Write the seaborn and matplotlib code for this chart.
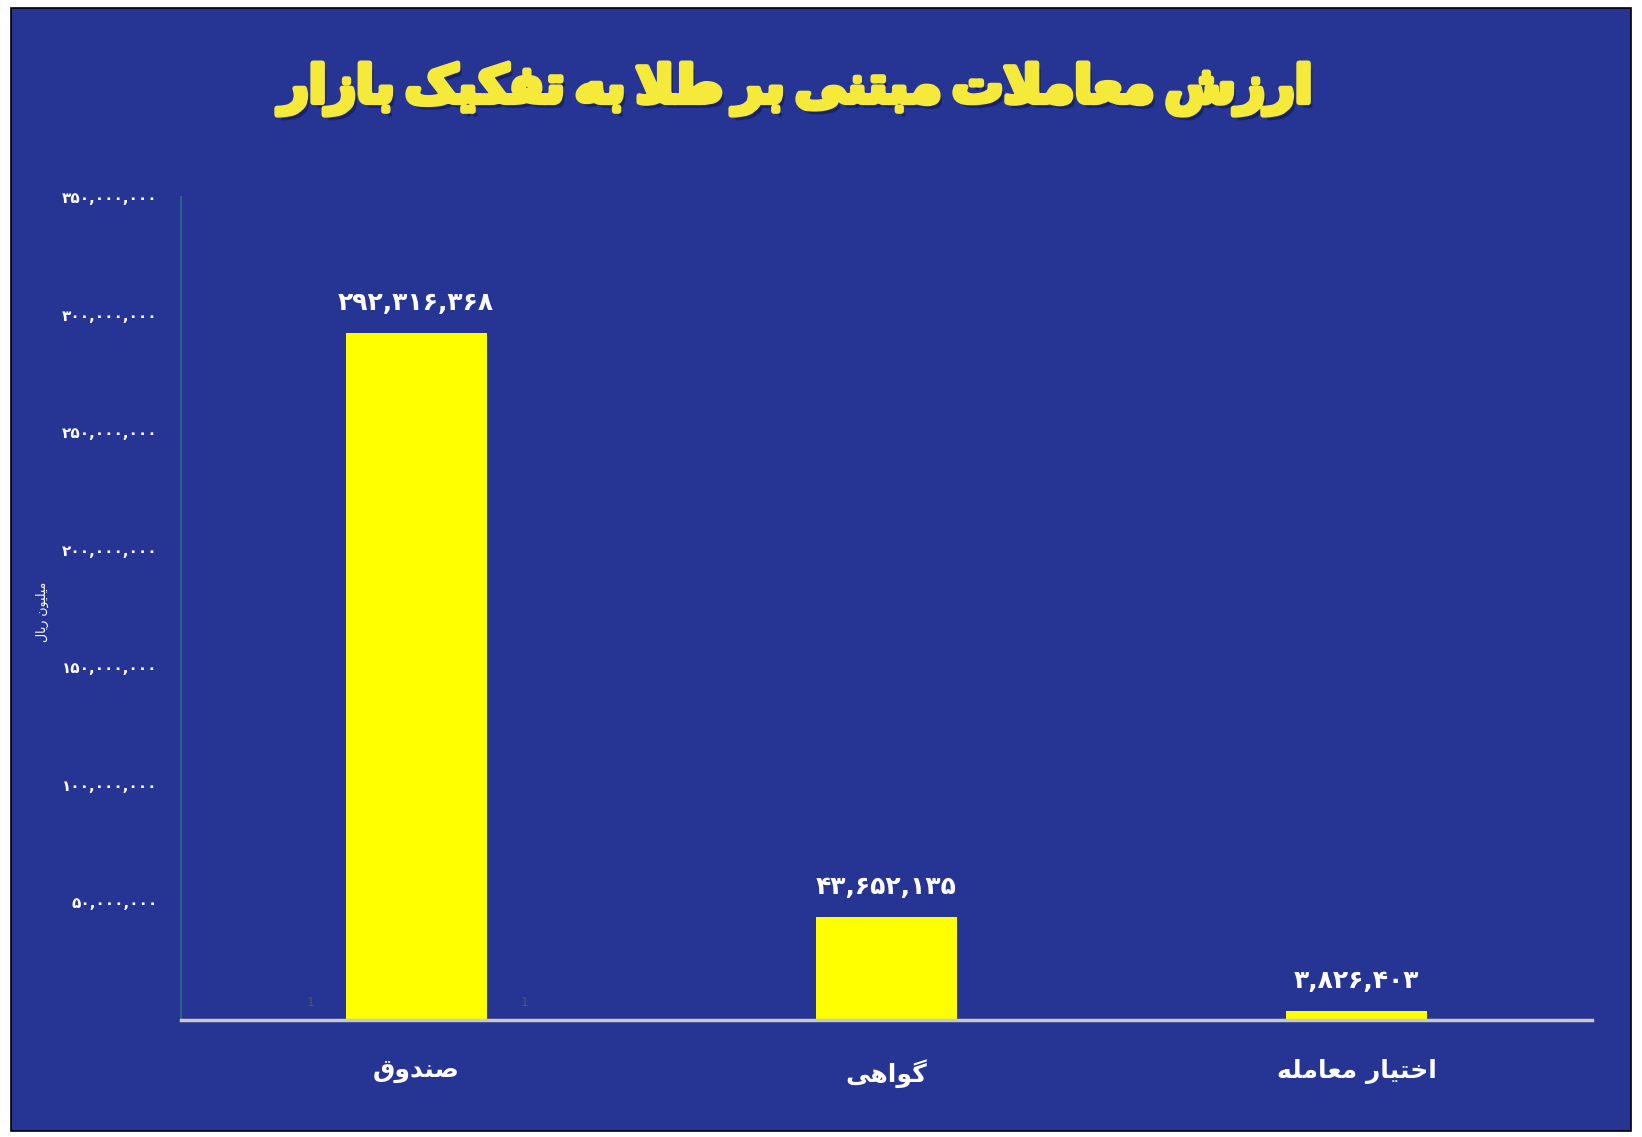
import matplotlib
matplotlib.use("Agg")
import matplotlib.pyplot as plt
import matplotlib.patheffects as pe
from matplotlib.patches import Rectangle
from matplotlib.ticker import FuncFormatter
import seaborn as sns
import pandas as pd

# ---------------- data ----------------
title = "ارزش معاملات مبتنی بر طلا به تفکیک بازار"
categories = ["صندوق", "گواهی", "اختیار معامله"]
values = [292316368, 43652135, 3826403]
y_label = "میلیون ریال"
y_ticks = [50000000, 100000000, 150000000, 200000000, 250000000, 300000000, 350000000]

# ---------------- minimal Persian shaping ----------------
FORMS = {  # isolated, final, initial, medial
    'ا': ('\uFE8D', '\uFE8E', None, None),
    'ب': ('\uFE8F', '\uFE90', '\uFE91', '\uFE92'),
    'ت': ('\uFE95', '\uFE96', '\uFE97', '\uFE98'),
    'خ': ('\uFEA5', '\uFEA6', '\uFEA7', '\uFEA8'),
    'د': ('\uFEA9', '\uFEAA', None, None),
    'ر': ('\uFEAD', '\uFEAE', None, None),
    'ز': ('\uFEAF', '\uFEB0', None, None),
    'ش': ('\uFEB5', '\uFEB6', '\uFEB7', '\uFEB8'),
    'ص': ('\uFEB9', '\uFEBA', '\uFEBB', '\uFEBC'),
    'ط': ('\uFEC1', '\uFEC2', '\uFEC3', '\uFEC4'),
    'ع': ('\uFEC9', '\uFECA', '\uFECB', '\uFECC'),
    'ف': ('\uFED1', '\uFED2', '\uFED3', '\uFED4'),
    'ق': ('\uFED5', '\uFED6', '\uFED7', '\uFED8'),
    'ل': ('\uFEDD', '\uFEDE', '\uFEDF', '\uFEE0'),
    'م': ('\uFEE1', '\uFEE2', '\uFEE3', '\uFEE4'),
    'ن': ('\uFEE5', '\uFEE6', '\uFEE7', '\uFEE8'),
    'ه': ('\uFEE9', '\uFEEA', '\uFEEB', '\uFEEC'),
    'و': ('\uFEED', '\uFEEE', None, None),
    'ی': ('\uFBFC', '\uFBFD', '\uFBFE', '\uFBFF'),
    'ک': ('\uFB8E', '\uFB8F', '\uFB90', '\uFB91'),
    'گ': ('\uFB92', '\uFB93', '\uFB94', '\uFB95'),
    'لا': ('\uFEFB', '\uFEFC', None, None),
}


def dual(ch):
    return ch in FORMS and FORMS[ch][2] is not None


def shape(text, space=' '):
    toks = []
    i = 0
    while i < len(text):
        if text[i] == 'ل' and i + 1 < len(text) and text[i + 1] == 'ا':
            toks.append('لا')
            i += 2
        else:
            toks.append(text[i])
            i += 1
    out = []
    for k, t in enumerate(toks):
        if t not in FORMS:
            out.append(space if t == ' ' else t)
            continue
        prev = toks[k - 1] if k > 0 else None
        nxt = toks[k + 1] if k + 1 < len(toks) else None
        join_prev = prev is not None and dual(prev)
        join_next = nxt is not None and nxt in FORMS and dual(t)
        iso, fin, ini, med = FORMS[t]
        if join_prev and join_next:
            out.append(med)
        elif join_prev:
            out.append(fin)
        elif join_next:
            out.append(ini)
        else:
            out.append(iso)
    return ''.join(out)[::-1]


FA_DIGITS = str.maketrans("0123456789", "۰۱۲۳۴۵۶۷۸۹")


def fa_num(v):
    return f"{int(v):,}".translate(FA_DIGITS)


# ---------------- style ----------------
BG = "#263494"
YELLOW = "#FFFF00"
sns.set_theme(style="white")
plt.rcParams['font.family'] = ['DejaVu Sans']

W, H = 1642, 1137
fig = plt.figure(figsize=(W / 100, H / 100), dpi=100, facecolor="white")
fig.patches.append(Rectangle((11 / W, 6 / H), (1631 - 11) / W, (1131 - 8) / H,
                             transform=fig.transFigure, facecolor=BG,
                             edgecolor="black", linewidth=1.2, zorder=-10))

ax = fig.add_axes([181 / W, 117 / H, (1592 - 181) / W, (940 - 117) / H])
ax.set_facecolor(BG)

df = pd.DataFrame({"cat": categories, "val": values})
sns.barplot(data=df, x="cat", y="val", color=YELLOW, saturation=1, width=0.30,
            ax=ax, edgecolor="none")

ax.set_ylim(0, 350000000)
ax.set_xlim(-0.5, 2.5)
ax.set_yticks(y_ticks)
ax.yaxis.set_major_formatter(FuncFormatter(lambda v, p: fa_num(v)))
ax.tick_params(axis="y", length=0, pad=17, labelsize=11, labelcolor="white")
for lbl in ax.get_yticklabels():
    lbl.set_fontweight("bold")

ax.set_xticks(range(len(categories)))
ax.set_xticklabels([shape(c) for c in categories], fontsize=18,
                   fontweight="bold", color="white")
ax.tick_params(axis="x", length=0, pad=28)
ax.set_xlabel("")
ax.set_ylabel("")

for s in ["top", "right"]:
    ax.spines[s].set_visible(False)
ax.spines["left"].set_color("#2a6f80")
ax.spines["left"].set_linewidth(1.2)
ax.spines["bottom"].set_color("#c8c8c8")
ax.spines["bottom"].set_linewidth(2.5)

# value labels
for i, v in enumerate(values):
    ax.annotate(fa_num(v), (i, v), xytext=(0, 13), textcoords="offset points",
                ha="center", va="bottom", fontsize=18, fontweight="bold",
                color="white")

# small artifacts seen in reference
ax.text(-0.225, 4500000, "1", color="#555555", fontsize=9, ha="center", va="bottom")
ax.text(0.23, 4500000, "1", color="#555555", fontsize=9, ha="center", va="bottom")

# y label
fig.text(42 / W, 1 - 612 / H, shape(y_label), rotation=90, color="white",
         fontsize=9, ha="center", va="center")

# title
fig.text(796 / W, 1 - 89 / H, shape(title, space='\u2009'), color="#F5E93A", fontsize=37,
         fontweight="bold", ha="center", va="center",
         path_effects=[pe.withSimplePatchShadow(offset=(3, -4), shadow_rgbFace="#10184a", alpha=0.6),
                       pe.withStroke(linewidth=4, foreground="#F5E93A")])

fig.savefig("out.png", dpi=100, facecolor="white")
